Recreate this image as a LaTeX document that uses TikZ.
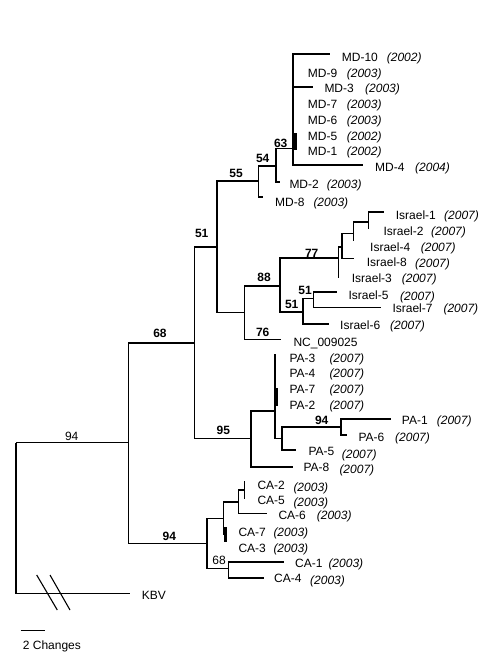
\documentclass[tikz,border=0pt]{standalone}
\usepackage{fontspec}
\setmainfont{Liberation Sans}
\usetikzlibrary{positioning}

\begin{document}
\begin{tikzpicture}[
    x=1pt, y=-1pt,
    branch/.style={line width=1.6pt, line cap=rect},
    rootline/.style={line width=1.1pt},
    subclade/.style={line width=3.2pt},
    leaf/.style={anchor=west, inner sep=0pt, text height=8.6pt, text depth=0pt,
      font=\fontsize{12}{14}\selectfont},
    yr/.style={leaf, font=\fontsize{12}{14}\selectfont\itshape},
    boot/.style={inner sep=0pt, text height=8.6pt, text depth=0pt,
      font=\fontsize{12}{14}\selectfont\bfseries},
    plain/.style={boot, font=\fontsize{12}{14}\selectfont}
  ]
  \useasboundingbox (0,0) rectangle (500,667);

  % internal nodes
  \coordinate (root) at (16,442.7);
  \coordinate (ingroup) at (128.3,442.7);
  \coordinate (n68) at (194.3,342.7);
  \coordinate (nca) at (206.7,543.3);
  \coordinate (n51) at (216.7,246.7);
  \coordinate (npa) at (251,438.3);
  \coordinate (nmd) at (258.3,181);
  \coordinate (n54) at (276,166);
  \coordinate (n63) at (292.7,148.3);
  \coordinate (nmdsub) at (295.5,142);
  \coordinate (nin) at (244.3,312.3);
  \coordinate (nisr) at (280,285.7);
  \coordinate (n77) at (338.5,258);
  \coordinate (ni8) at (341.7,246.7);
  \coordinate (ni4) at (353.3,233.3);
  \coordinate (ni12) at (368.3,221.7);
  \coordinate (n51a) at (302.7,311.7);
  \coordinate (n51b) at (313.3,298.3);
  \coordinate (npain) at (275,411);
  \coordinate (npasub) at (276.5,397);
  \coordinate (npa56) at (281.7,438.3);
  \coordinate (npa16) at (340.7,426.7);
  \coordinate (ncaa) at (223.3,518.3);
  \coordinate (ncab) at (238.3,501.7);
  \coordinate (nca25) at (244.5,490);
  \coordinate (nca37) at (225.5,534);
  \coordinate (nca14) at (228.3,568.3);

  % branch tips
  \coordinate (tkbv) at (130,593.3);
  \coordinate (tmd10) at (329.3,54);
  \coordinate (tmd3) at (311.7,86.7);
  \coordinate (tmd4) at (361.7,165);
  \coordinate (tmd5) at (295.5,133);
  \coordinate (tmd1) at (295.5,150);
  \coordinate (tmd2) at (279,181.7);
  \coordinate (tmd8) at (262,196.7);
  \coordinate (tnc) at (280,339.3);
  \coordinate (tisr1) at (383.3,211.7);
  \coordinate (tisr2) at (368.3,228.3);
  \coordinate (tisr4) at (353.3,240);
  \coordinate (tisr8) at (353.3,258.3);
  \coordinate (tisr3) at (338.5,276.7);
  \coordinate (tisr5) at (336,291.7);
  \coordinate (tisr7) at (380,307.3);
  \coordinate (tisr6) at (327.7,324);
  \coordinate (tpa3) at (275,355);
  \coordinate (tpa7) at (276.5,388);
  \coordinate (tpa2) at (276.5,406);
  \coordinate (tpa1) at (390,419);
  \coordinate (tpa6) at (345.7,435);
  \coordinate (tpa5) at (295,450);
  \coordinate (tpa8) at (291.7,466.7);
  \coordinate (tca2) at (244.5,481.5);
  \coordinate (tca5) at (244.5,498.3);
  \coordinate (tca6) at (266,513.3);
  \coordinate (tca7) at (225.5,527);
  \coordinate (tca3) at (225.5,542);
  \coordinate (tca1) at (283.3,561.7);
  \coordinate (tca4) at (262.7,577.7);

  % root and outgroup
  \draw[rootline] (root) -- (ingroup);
  \draw[rootline] (root) |- (tkbv);
  \draw[rootline] (36.7,575) -- (57.3,610);
  \draw[rootline] (50,575) -- (70,610);

  % tree
  \draw[branch] (ingroup) |- (n68) (ingroup) |- (nca);
  \draw[branch] (n68) |- (n51) (n68) |- (npa);
  \draw[branch] (n51) |- (nmd) (n51) |- (nin);
  \draw[branch] (nmd) |- (n54) (nmd) |- (tmd8);
  \draw[branch] (n54) |- (n63) (n54) |- (tmd2);
  \draw[branch] (n63) |- (tmd10) (n63) |- (tmd3) (n63) |- (tmd4) (n63) |- (nmdsub);
  \draw[subclade] (tmd5) -- (tmd1);
  \draw[branch] (nin) |- (nisr) (nin) |- (tnc);
  \draw[branch] (nisr) |- (n77) (nisr) |- (n51a);
  \draw[branch] (n77) |- (ni8) (n77) |- (tisr3);
  \draw[branch] (ni8) |- (ni4) (ni8) |- (tisr8);
  \draw[branch] (ni4) |- (ni12) (ni4) |- (tisr4);
  \draw[branch] (ni12) |- (tisr1) (ni12) |- (tisr2);
  \draw[branch] (n51a) |- (n51b) (n51a) |- (tisr6);
  \draw[branch] (n51b) |- (tisr5) (n51b) |- (tisr7);
  \draw[branch] (npa) |- (npain) (npa) |- (tpa8);
  \draw[branch] (npain) |- (tpa3) (npain) |- (npa56);
  \draw[subclade] (tpa7) -- (tpa2);
  \draw[branch] (npa56) |- (npa16) (npa56) |- (tpa5);
  \draw[branch] (npa16) |- (tpa1) (npa16) |- (tpa6);
  \draw[branch] (nca) |- (ncaa) (nca) |- (nca14);
  \draw[branch] (ncaa) |- (ncab) (ncaa) |- (nca37);
  \draw[branch] (ncab) |- (nca25) (ncab) |- (tca6);
  \draw[branch] (nca25) |- (tca2) (nca25) |- (tca5);
  \draw[subclade] (tca7) -- (tca3);
  \draw[branch] (nca14) |- (tca1) (nca14) |- (tca4);

  % support values
  \node[plain] (broot) at (71.7,436) {94};
  \node[boot] (b68) at (160,333) {68};
  \node[boot] (b51) at (201.7,233.3) {51};
  \node[boot] (b55) at (236,173) {55};
  \node[boot] (b54) at (262.7,158.3) {54};
  \node[boot] (b63) at (280.7,143.3) {63};
  \node[boot] (b88) at (264,277) {88};
  \node[boot] (b76) at (262.7,331.7) {76};
  \node[boot] (b77) at (311.7,252.7) {77};
  \node[boot] (b51a) at (291.7,304) {51};
  \node[boot] (b51b) at (305,290) {51};
  \node[boot] (b95) at (223.3,430) {95};
  \node[boot] (b94pa) at (321.7,420) {94};
  \node[boot] (b94ca) at (169.3,535.7) {94};
  \node[plain] (b68ca) at (219,560) {68};

  % leaf labels
  \node[leaf] (md10) at (341.7,56.7) {MD-10};
  \node[yr] (md10y) at (386.7,56.7) {(2002)};
  \node[leaf] (md9) at (307.7,73.3) {MD-9};
  \node[yr] (md9y) at (346.7,73.3) {(2003)};
  \node[leaf] (md3) at (324.3,88.3) {MD-3};
  \node[yr] (md3y) at (365,88.3) {(2003)};
  \node[leaf] (md7) at (307.7,104.3) {MD-7};
  \node[yr] (md7y) at (346.7,104.3) {(2003)};
  \node[leaf] (md6) at (307.7,120) {MD-6};
  \node[yr] (md6y) at (346.7,120) {(2003)};
  \node[leaf] (md5) at (307.7,136) {MD-5};
  \node[yr] (md5y) at (346.7,136) {(2002)};
  \node[leaf] (md1) at (307.7,151) {MD-1};
  \node[yr] (md1y) at (346.7,151) {(2002)};
  \node[leaf] (md4) at (375,166.7) {MD-4};
  \node[yr] (md4y) at (415,166.7) {(2004)};
  \node[leaf] (md2) at (289.3,184) {MD-2};
  \node[yr] (md2y) at (326.7,184) {(2003)};
  \node[leaf] (md8) at (275,201.7) {MD-8};
  \node[yr] (md8y) at (313.3,201.7) {(2003)};

  \node[leaf] (isr1) at (395.7,215) {Israel-1};
  \node[yr] (isr1y) at (444,215) {(2007)};
  \node[leaf] (isr2) at (383.3,230.7) {Israel-2};
  \node[yr] (isr2y) at (431,230.7) {(2007)};
  \node[leaf] (isr4) at (370,246.7) {Israel-4};
  \node[yr] (isr4y) at (420.7,246.7) {(2007)};
  \node[leaf] (isr8) at (366.7,261.7) {Israel-8};
  \node[yr] (isr8y) at (415,263) {(2007)};
  \node[leaf] (isr3) at (351.7,278.3) {Israel-3};
  \node[yr] (isr3y) at (401.7,278.3) {(2007)};
  \node[leaf] (isr5) at (348.3,295) {Israel-5};
  \node[yr] (isr5y) at (400,296) {(2007)};
  \node[leaf] (isr7) at (392.3,308.3) {Israel-7};
  \node[yr] (isr7y) at (443.3,308.3) {(2007)};
  \node[leaf] (isr6) at (340,325) {Israel-6};
  \node[yr] (isr6y) at (390,325) {(2007)};
  \node[leaf] (nc) at (293.3,341.7) {NC\_009025};

  \node[leaf] (pa3) at (289.3,358.3) {PA-3};
  \node[yr] (pa3y) at (329.3,358.3) {(2007)};
  \node[leaf] (pa4) at (289.3,373.3) {PA-4};
  \node[yr] (pa4y) at (329.3,373.3) {(2007)};
  \node[leaf] (pa7) at (289.3,389) {PA-7};
  \node[yr] (pa7y) at (329.3,389) {(2007)};
  \node[leaf] (pa2) at (289.3,405) {PA-2};
  \node[yr] (pa2y) at (329.3,405) {(2007)};
  \node[leaf] (pa1) at (401.7,420) {PA-1};
  \node[yr] (pa1y) at (436.7,420) {(2007)};
  \node[leaf] (pa6) at (358.3,436.7) {PA-6};
  \node[yr] (pa6y) at (395,436.7) {(2007)};
  \node[leaf] (pa5) at (308.3,451.5) {PA-5};
  \node[yr] (pa5y) at (341.7,454) {(2007)};
  \node[leaf] (pa8) at (303.3,467.5) {PA-8};
  \node[yr] (pa8y) at (339.3,469) {(2007)};

  \node[leaf] (ca2) at (257.3,485.5) {CA-2};
  \node[yr] (ca2y) at (293.3,487) {(2003)};
  \node[leaf] (ca5) at (257.3,500.5) {CA-5};
  \node[yr] (ca5y) at (293.3,502) {(2003)};
  \node[leaf] (ca6) at (278.3,515) {CA-6};
  \node[yr] (ca6y) at (316.7,515) {(2003)};
  \node[leaf] (ca7) at (238.3,531.7) {CA-7};
  \node[yr] (ca7y) at (273.3,531.7) {(2003)};
  \node[leaf] (ca3) at (238.3,547.7) {CA-3};
  \node[yr] (ca3y) at (273.3,547.7) {(2003)};
  \node[leaf] (ca1) at (295,562.7) {CA-1};
  \node[yr] (ca1y) at (328.3,562.7) {(2003)};
  \node[leaf] (ca4) at (274,578.5) {CA-4};
  \node[yr] (ca4y) at (310,580) {(2003)};

  \node[leaf] (kbv) at (141.7,595) {KBV};

  % scale bar
  \coordinate (sbl) at (20.7,630.7);
  \coordinate (sbr) at (45,630.7);
  \draw[line width=1pt] (sbl) -- (sbr);
  \node[leaf] (scale) at (22.7,645) {2 Changes};
\end{tikzpicture}
\end{document}
